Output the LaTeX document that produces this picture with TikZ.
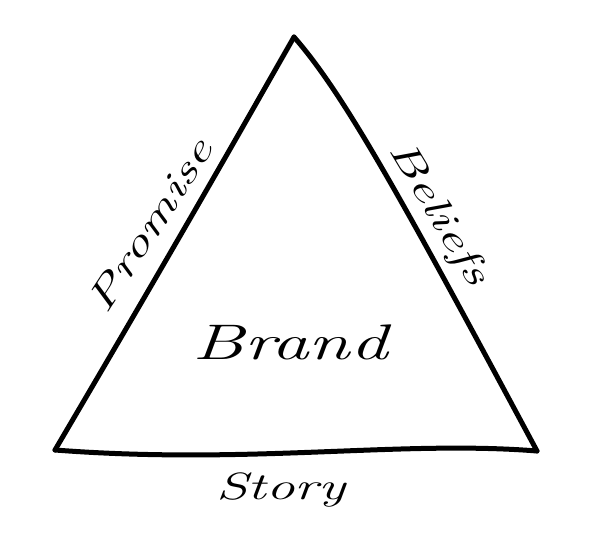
\documentclass[tikz,border=0pt]{standalone}
\usepackage{graphicx}
\usetikzlibrary{positioning}

\newcommand\widetext[1]{\scalebox{1.5}[1]{#1}}

\begin{document}
\begin{tikzpicture}[
        x=1pt, y=-1pt,
        side/.style={line width=5pt, line join=round, line cap=round, black},
        word/.style={font=\itshape\fontsize{38}{44}\selectfont, inner sep=0pt},
        bigword/.style={font=\itshape\fontsize{50}{58}\selectfont, inner sep=0pt}
    ]
        \useasboundingbox (0,0) rectangle (600,533);

        % --- CORNERS ---
        \coordinate (apex) at (294, 37);
        \coordinate (left) at (55, 450);
        \coordinate (right) at (537, 451);

        % --- HAND-DRAWN TRIANGLE ---
        \draw[side] (apex) .. controls (255, 105) and (205, 195) .. (left);
        \draw[side] (apex) .. controls (345, 95) and (405, 205) .. (right);
        \draw[side] (right) .. controls (400, 440) and (250, 465) .. (left);

        % --- LABELS ---
        \node[bigword] (brand) at (290, 342) {\widetext{Brand}};
        \node[word, rotate=57] (promise) at (150, 225) {\widetext{Promise}};
        \node[word, rotate=-59] (beliefs) at (438, 214) {\widetext{Beliefs}};
        \node[word] (story) at (281, 490) {\widetext{Story}};

    \end{tikzpicture}
\end{document}
